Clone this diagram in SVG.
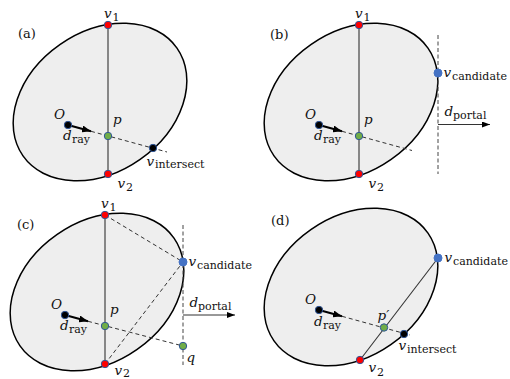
<svg xmlns="http://www.w3.org/2000/svg" width="510" height="379" viewBox="0 0 510 379">
<style>
.shape{fill:#eeeeee;stroke:#000;stroke-width:1.5}
.seg{stroke:#333;stroke-width:1.1;fill:none}
.dash{stroke:#333;stroke-width:1;stroke-dasharray:4 3;fill:none}
.vdash{stroke:#444;stroke-width:1;stroke-dasharray:4 2.5;fill:none}
.ray{stroke:#000;stroke-width:2}
.portal{stroke:#333;stroke-width:1}
.dot{stroke:#2f5597;stroke-width:1}
.red{fill:#ff0000}.green{fill:#70ad47}.blue{fill:#4472c4;stroke:#4472c4}.blk{fill:#000}
.m{font-family:"DejaVu Serif",serif;font-style:italic;font-size:13.5px;fill:#111}
.s{font-family:"DejaVu Serif",serif;font-size:11px;fill:#111}
.lab{font-family:"DejaVu Serif",serif;font-size:13px;fill:#111}
</style>
<defs>
<marker id="hRay" markerWidth="9" markerHeight="7" refX="9" refY="3.5" orient="auto" markerUnits="userSpaceOnUse"><path d="M0,0 L9,3.5 L0,7 z" fill="#000"/></marker>
<marker id="hPortal" markerWidth="8" markerHeight="6" refX="8" refY="3" orient="auto" markerUnits="userSpaceOnUse"><path d="M0,0 L8,3 L0,6 z" fill="#000"/></marker>
</defs>

<!-- Panel (a) -->
<g id="panel-a">
  <ellipse id="a-region" class="shape" cx="100" cy="102" rx="94" ry="70" transform="rotate(-35 100 102)"/>
  <g id="a-connectors">
    <line class="seg" x1="108" y1="25" x2="108" y2="174"/>
    <line class="dash" x1="91" y1="131.3" x2="167" y2="152"/>
    <line class="ray" x1="68" y1="125" x2="91" y2="131.3" marker-end="url(#hRay)"/>
  </g>
  <g id="a-v1"><circle class="dot red" cx="108" cy="25" r="3.7"/><text class="m" x="104" y="17.5">v</text><text class="s" x="112.5" y="20.5">1</text></g>
  <g id="a-v2"><circle class="dot red" cx="108" cy="174" r="3.7"/><text class="m" x="117.5" y="188">v</text><text class="s" x="126" y="191">2</text></g>
  <g id="a-O"><circle class="dot blk" cx="68" cy="125" r="3.7"/><text class="m" x="54" y="119">O</text><text class="m" x="63" y="140">d</text><text class="s" x="72" y="143">ray</text></g>
  <g id="a-p"><circle class="dot green" cx="108" cy="136" r="3.7"/><text class="m" x="113" y="124">p</text></g>
  <g id="a-vint"><circle class="dot blk" cx="153" cy="148" r="3.7"/><text class="m" x="146.5" y="165.5">v</text><text class="s" x="155" y="168">intersect</text></g>
  <text class="lab" x="18" y="38">(a)</text>
</g>

<!-- Panel (b) -->
<g id="panel-b" transform="translate(251,0)">
  <ellipse id="b-region" class="shape" cx="100" cy="102" rx="94" ry="70" transform="rotate(-35 100 102)"/>
  <g id="b-connectors">
    <line class="seg" x1="108" y1="25" x2="108" y2="174"/>
    <line class="dash" x1="91" y1="131.3" x2="161" y2="150.5"/>
    <line class="ray" x1="68" y1="125" x2="91" y2="131.3" marker-end="url(#hRay)"/>
    <line class="vdash" x1="187" y1="35" x2="187" y2="174"/>
    <line class="portal" x1="187" y1="124.5" x2="239" y2="124.5" marker-end="url(#hPortal)"/>
  </g>
  <g id="b-v1"><circle class="dot red" cx="108" cy="25" r="3.7"/><text class="m" x="104" y="17.5">v</text><text class="s" x="112.5" y="20.5">1</text></g>
  <g id="b-v2"><circle class="dot red" cx="108" cy="174" r="3.7"/><text class="m" x="117.5" y="188">v</text><text class="s" x="126" y="191">2</text></g>
  <g id="b-O"><circle class="dot blk" cx="68" cy="125" r="3.7"/><text class="m" x="54" y="119">O</text><text class="m" x="63" y="140">d</text><text class="s" x="72" y="143">ray</text></g>
  <g id="b-p"><circle class="dot green" cx="108" cy="136" r="3.7"/><text class="m" x="113" y="124">p</text></g>
  <g id="b-vcand"><circle class="dot blue" cx="187" cy="73" r="4"/><text class="m" x="192.5" y="77">v</text><text class="s" x="201" y="80">candidate</text></g>
  <g id="b-dportal"><text class="m" x="193.5" y="116">d</text><text class="s" x="202" y="119">portal</text></g>
  <text class="lab" x="19" y="39">(b)</text>
</g>

<!-- Panel (c) -->
<g id="panel-c" transform="translate(-3,190)">
  <ellipse id="c-region" class="shape" cx="100" cy="102" rx="94" ry="70" transform="rotate(-35 100 102)"/>
  <g id="c-connectors">
    <line class="seg" x1="108" y1="25" x2="108" y2="174"/>
    <line class="dash" x1="91" y1="131.3" x2="186" y2="156"/>
    <line class="dash" x1="108" y1="25" x2="186" y2="72"/>
    <line class="dash" x1="108" y1="174" x2="186" y2="72"/>
    <line class="ray" x1="68" y1="125" x2="91" y2="131.3" marker-end="url(#hRay)"/>
    <line class="vdash" x1="186" y1="35" x2="186" y2="175"/>
    <line class="portal" x1="186" y1="125" x2="238" y2="125" marker-end="url(#hPortal)"/>
  </g>
  <g id="c-v1"><circle class="dot red" cx="108" cy="25" r="3.7"/><text class="m" x="104" y="17.5">v</text><text class="s" x="112.5" y="20.5">1</text></g>
  <g id="c-v2"><circle class="dot red" cx="108" cy="174" r="3.7"/><text class="m" x="117.5" y="184.5">v</text><text class="s" x="126" y="186.5">2</text></g>
  <g id="c-O"><circle class="dot blk" cx="68" cy="125" r="3.7"/><text class="m" x="54" y="119">O</text><text class="m" x="63" y="140">d</text><text class="s" x="72" y="143">ray</text></g>
  <g id="c-p"><circle class="dot green" cx="108" cy="136" r="3.7"/><text class="m" x="113" y="124">p</text></g>
  <g id="c-vcand"><circle class="dot blue" cx="186" cy="72" r="4"/><text class="m" x="191.5" y="76">v</text><text class="s" x="200" y="79">candidate</text></g>
  <g id="c-dportal"><text class="m" x="192.5" y="117">d</text><text class="s" x="201" y="120">portal</text></g>
  <g id="c-q"><circle class="dot green" cx="186" cy="156" r="3.7"/><text class="m" x="189.5" y="172">q</text></g>
  <text class="lab" x="20" y="39">(c)</text>
</g>

<!-- Panel (d) -->
<g id="panel-d" transform="translate(251,185)">
  <ellipse id="d-region" class="shape" cx="100" cy="102" rx="94" ry="70" transform="rotate(-35 100 102)"/>
  <g id="d-connectors">
    <line class="seg" x1="109" y1="175" x2="187" y2="73"/>
    <line class="dash" x1="91" y1="131.3" x2="159" y2="150"/>
    <line class="ray" x1="68" y1="125" x2="91" y2="131.3" marker-end="url(#hRay)"/>
  </g>
  <g id="d-v2"><circle class="dot red" cx="109" cy="175" r="3.7"/><text class="m" x="117.5" y="187">v</text><text class="s" x="126" y="190.5">2</text></g>
  <g id="d-O"><circle class="dot blk" cx="68" cy="125" r="3.7"/><text class="m" x="54" y="119">O</text><text class="m" x="63" y="141">d</text><text class="s" x="72" y="144">ray</text></g>
  <g id="d-p"><circle class="dot green" cx="133" cy="142.5" r="3.7"/><text class="m" x="126.5" y="135">p′</text></g>
  <g id="d-vint"><circle class="dot blk" cx="153" cy="149" r="3.7"/><text class="m" x="147.5" y="165">v</text><text class="s" x="156" y="167.5">intersect</text></g>
  <g id="d-vcand"><circle class="dot blue" cx="187" cy="73" r="4"/><text class="m" x="193.5" y="77">v</text><text class="s" x="202" y="80">candidate</text></g>
  <text class="lab" x="20" y="40">(d)</text>
</g>
</svg>
